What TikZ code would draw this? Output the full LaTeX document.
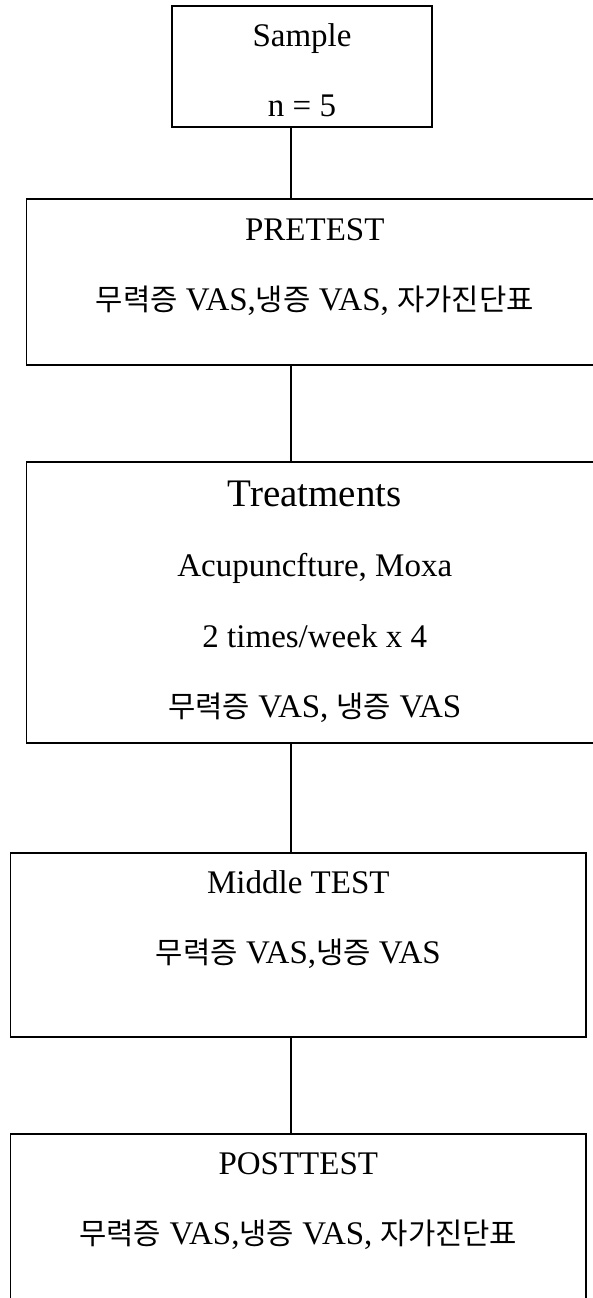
\documentclass[tikz,border=0pt]{standalone}
\usepackage{fontspec}
\setmainfont{Liberation Serif}
\newfontfamily\kr[Scale=0.9]{Noto Sans CJK KR}
\usepackage{tikz}
\usetikzlibrary{calc}

\tikzset{
  box/.style={draw, line width=1.6pt, inner sep=0pt},
  lbl/.style={anchor=base, inner sep=0pt, font=\fontsize{33}{40}\selectfont},
  link/.style={line width=1.6pt},
}

\begin{document}
\begin{tikzpicture}[x=1pt,y=-1pt]
\useasboundingbox (0,0) rectangle (593,1298);
\coordinate (spine) at (291,0);
\node[box, minimum width=260pt, minimum height=121pt] (sample) at (302,66.5) {};
\node[box, minimum width=576.5pt, minimum height=166pt] (pretest) at (314.75,282) {};
\node[box, minimum width=576.5pt, minimum height=281pt] (treat) at (314.75,602.5) {};
\node[box, minimum width=575.4pt, minimum height=184pt] (middle) at (298.3,945) {};
\node[box, minimum width=575.4pt, minimum height=176pt] (post) at (298.3,1222) {};

\node[lbl] (sampleA) at ([yshift=-41pt]sample.north) {Sample};
\node[lbl] (sampleB) at ([yshift=-111pt]sample.north) {n = 5};
\node[lbl] (pretestA) at ([yshift=-42pt]pretest.north) {PRETEST};
\node[lbl] (pretestB) at ([yshift=-112pt]pretest.north) {{\kr 무력증} VAS,{\kr 냉증} VAS, {\kr 자가진단표}};
\node[lbl, font=\fontsize{39}{46}\selectfont] (treatA) at ([yshift=-45pt]treat.north) {Treatments};
\node[lbl] (treatB) at ([yshift=-115pt]treat.north) {Acupuncfture, Moxa};
\node[lbl] (treatC) at ([yshift=-186pt]treat.north) {2 times/week x 4};
\node[lbl] (treatD) at ([yshift=-256pt]treat.north) {{\kr 무력증} VAS, {\kr 냉증} VAS};
\node[lbl] (middleA) at ([yshift=-41pt]middle.north) {Middle TEST};
\node[lbl] (middleB) at ([yshift=-111pt]middle.north) {{\kr 무력증} VAS,{\kr 냉증} VAS};
\node[lbl] (postA) at ([yshift=-41pt]post.north) {POSTTEST};
\node[lbl] (postB) at ([yshift=-111pt]post.north) {{\kr 무력증} VAS,{\kr 냉증} VAS, {\kr 자가진단표}};

\draw[link] (sample.south -| spine) -- (pretest.north -| spine);
\draw[link] (pretest.south -| spine) -- (treat.north -| spine);
\draw[link] (treat.south -| spine) -- (middle.north -| spine);
\draw[link] (middle.south -| spine) -- (post.north -| spine);
\end{tikzpicture}
\end{document}
